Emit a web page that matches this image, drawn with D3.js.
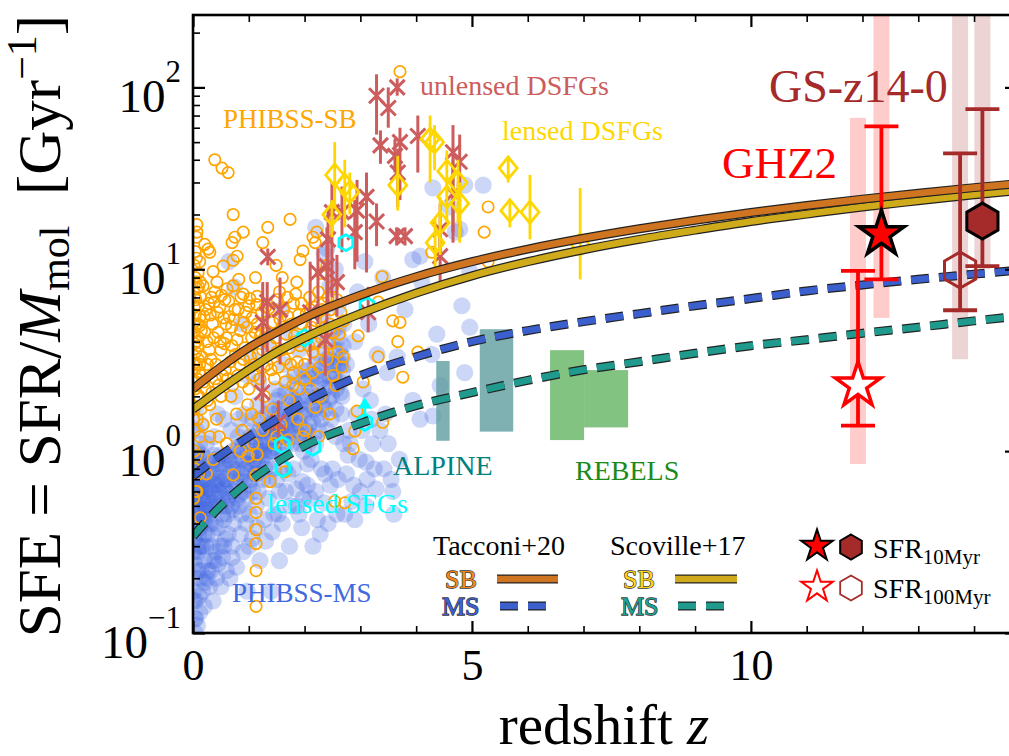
<!DOCTYPE html>
<html>
<head>
<meta charset="utf-8">
<script src="https://cdn.jsdelivr.net/npm/d3@7"></script>
<style>
body { margin: 0; background: #fff; }
svg text { font-family: "Liberation Serif", "Times New Roman", serif; }
</style>
</head>
<body>
<svg id="chart" width="1009" height="756"></svg>
<script>
// ---- data: [redshift, SFE in Gyr^-1] ----
var phibssMS = [
  [0.02,0.09],[0.03,0.12],[0.05,0.15],[0.04,0.2],[0.06,0.26],[0.03,0.33],[0.08,0.4],[0.02,0.5],[0.07,0.62],[0.1,0.75],
  [0.04,0.9],[0.12,1.1],[0.06,1.3],[0.15,0.55],[0.11,0.45],[0.14,0.3],[0.09,0.22],[0.17,0.17],[0.12,0.13],[0.18,0.7],
  [0.16,0.95],[0.05,1.7],[0.1,0.35],[0.13,0.85],[0.19,0.42],[0.02,0.72],[0.08,1.0],[0.15,1.4],[0.2,0.25],[0.01,0.28],
  [0.22,0.6],[0.25,0.35],[0.28,0.9],[0.3,0.5],[0.32,0.22],[0.35,0.75],[0.38,1.2],[0.4,0.4],[0.42,0.28],[0.45,0.65],
  [0.48,0.95],[0.5,0.18],[0.52,0.55],[0.55,1.5],[0.58,0.33],[0.24,1.1],[0.36,0.15],[0.44,1.6],[0.27,0.45],[0.33,0.3],
  [0.46,0.85],[0.53,0.26],[0.57,0.7],[0.21,0.19],[0.39,0.58],
  [0.62,0.45],[0.65,0.9],[0.68,1.3],[0.7,0.3],[0.72,0.6],[0.75,2.0],[0.78,0.23],[0.8,1.05],[0.83,0.5],[0.86,0.75],
  [0.9,0.28],[0.92,1.6],[0.95,0.4],[0.98,2.6],[1.0,0.65],[1.03,1.2],[1.06,0.33],[1.1,0.9],[1.13,0.5],[1.16,1.8],
  [1.2,0.25],[1.22,1.1],[1.25,0.7],[1.28,0.42],[0.66,0.2],[0.74,8.0],[0.88,5.0],[1.05,3.2],[0.64,11],[0.97,0.17],
  [1.18,2.4],[0.82,1.5],
  [1.32,0.85],[1.35,0.55],[1.38,1.4],[1.42,0.36],[1.45,1.05],[1.48,2.2],[1.5,0.7],[1.53,0.45],[1.56,1.7],[1.6,0.95],
  [1.63,3.0],[1.66,0.6],[1.7,1.25],[1.73,0.3],[1.76,2.0],[1.8,0.8],[1.83,1.5],[1.86,0.5],[1.9,3.6],[1.93,1.1],
  [1.96,0.68],[1.99,2.5],[1.4,0.17],[1.55,0.25],[1.75,4.5],[1.95,0.38],[1.6,6.0],[1.35,3.8],
  [2.02,1.3],[2.05,0.85],[2.08,2.8],[2.1,0.55],[2.13,1.8],[2.16,4.0],[2.2,1.1],[2.23,0.42],[2.26,2.3],[2.3,1.5],
  [2.33,5.5],[2.36,0.75],[2.4,3.2],[2.43,1.9],[2.46,0.65],[2.5,4.5],[2.53,2.6],[2.56,1.2],[2.6,6.2],[2.63,3.6],
  [2.66,1.6],[2.7,5.0],[2.28,0.35],[2.45,8.0],[2.35,12],[2.2,17],[2.55,10],[2.4,13],[2.65,2.1],[2.15,0.3],
  [2.75,3.0],[2.8,1.3],[2.85,0.53],[2.9,4.0],[2.95,7.5],[3.0,0.6],[3.05,2.2],[3.1,0.87],[3.15,5.0],[3.2,1.5],
  [3.25,0.8],[3.3,3.4],[3.4,9.0],[3.45,1.6],[2.78,0.95],[3.08,11],
  [3.55,0.7],[3.66,3.3],[3.48,2.7],[3.94,1.9],[3.94,11.3],[4.07,11.8],[4.07,1.5],[4.28,3.4],[4.3,28],[4.3,1.56],
  [4.37,4.4],[4.43,2.3],[4.7,16],[4.78,16.6],[4.82,6.3],[4.87,29],[4.87,2.7],[4.96,4.8],[4.96,9.7],[5.2,29],
  [4.6,22],[3.8,6],[4.1,8.5],[3.6,0.45],
  [0.03,0.4],[0.06,0.5],[0.09,0.6],[0.12,0.38],[0.14,0.48],[0.18,0.55],[0.22,0.42],[0.26,0.7],[0.3,0.62],[0.34,0.48],
  [0.4,0.8],[0.44,0.52],[0.5,0.72],[0.55,0.42],[0.6,0.95],[0.66,0.58],[0.72,0.8],[0.78,0.65],[0.84,1.0],[0.9,0.6],
  [0.96,1.3],[1.02,0.85],[1.08,1.5],[1.14,0.75],[1.2,1.3],[1.26,1.0],[1.34,1.6],[1.42,1.2],[1.5,1.9],[1.58,1.35],
  [1.66,2.1],[1.74,1.55],[1.82,2.6],[1.9,1.8],[1.98,1.0],[2.06,2.0],[2.14,1.45],[2.22,2.6],[2.3,2.0],[2.38,3.0],
  [2.46,2.3],[2.54,3.6],[2.62,4.2],[2.68,2.8],[0.05,0.8],[0.1,0.28],[0.16,0.65],[0.02,0.17],[0.08,0.11],[0.13,0.2],
  [0.01,0.15],[0.03,0.24],[0.05,0.36],[0.07,0.45],[0.09,0.3],[0.11,0.55],[0.13,0.65],[0.15,0.4],[0.17,0.3],[0.19,0.8],
  [0.21,0.5],[0.23,0.3],[0.25,0.55],[0.27,0.22],[0.29,0.75],[0.31,0.4],[0.33,0.6],[0.35,0.35],[0.37,0.95],[0.39,0.25],
  [0.41,0.5],[0.43,0.7],[0.45,0.38],[0.47,0.6],[0.49,0.3],[0.51,0.85],[0.53,0.45],[0.56,0.62],[0.59,0.5],[0.61,0.7],
  [0.63,0.35],[0.67,0.75],[0.69,0.5],[0.71,1.0],[0.73,0.4],[0.76,0.9],[0.79,0.55],[0.81,1.2],[0.85,0.7],[0.87,0.45],
  [0.89,1.1],[0.93,0.8],[0.95,0.55],[0.99,1.0],[1.01,0.45],[1.04,0.95],[1.07,0.6],[1.09,1.2],[1.11,0.75],[1.15,1.0],
  [1.17,0.6],[1.19,1.5],[1.23,0.9],[1.27,1.3],[1.29,0.8],[1.31,1.15],[1.36,0.7],[1.39,1.0],[1.41,1.7],[1.44,0.8],
  [1.47,1.3],[1.52,1.0],[1.54,2.0],[1.57,1.2],[1.61,1.6],[1.64,0.8],[1.67,1.4],[1.71,2.4],[1.78,1.1],[1.81,1.9],
  [1.84,1.3],[1.87,2.2],[1.91,1.4],[1.94,2.8],[2.0,1.6],[2.03,2.4],[2.07,1.1],[2.11,2.1],[2.17,1.7],[2.19,3.0],
  [2.25,1.3],[2.27,3.4],[2.32,2.5],[2.37,1.7],[2.41,4.0],[2.44,2.6],[2.48,1.5],[2.52,3.0],[2.57,2.2],[2.6,4.8],
  [2.64,3.0],[2.67,2.0],[2.69,3.8],[0.04,0.1],[0.11,0.16],[0.2,0.14],[0.3,0.18],[0.42,0.2],[0.6,0.22],[0.05,0.12],
  [0.05,0.55],[0.08,0.7],[0.1,0.9],[0.14,0.62],[0.16,0.45],[0.2,0.35],[0.24,0.48],[0.28,0.62],[0.32,0.85],[0.36,0.52],
  [0.4,0.65],[0.44,0.9],[0.48,0.5],[0.52,0.68],[0.56,0.85],[0.6,0.6],[0.64,0.55],[0.68,0.85],[0.72,0.48],[0.76,0.7],
  [0.8,0.8],[0.84,0.58],[0.88,0.9],[0.92,0.68],[0.96,0.85],[1.0,1.1],[1.04,0.7],[1.08,0.85],[1.12,1.1],[1.16,0.85],
  [1.2,1.0],[1.24,1.2],[1.28,0.95],[1.32,1.35],[1.36,1.1],[1.4,1.4],[1.44,1.0],[1.48,1.6],[1.52,1.25],[1.56,1.45],
  [1.6,1.2],[1.64,1.7],[1.68,1.1],[1.72,1.3],[1.76,1.6],[1.8,1.4],[1.84,1.8],[1.88,1.2],[1.92,1.6],[1.96,2.0],
  [2.0,1.2],[2.04,1.7],[2.08,1.4],[2.12,2.5],[2.16,1.2],[2.2,2.0],[2.24,1.6],[2.28,2.8],[2.32,1.8],[2.36,2.2],
  [2.4,1.3],[2.44,3.2],[2.48,2.0],[2.52,2.5],[2.56,1.7],[2.6,3.0],[2.64,2.4],[2.68,3.3],[0.15,0.22],[0.25,0.2],
  [0.35,0.25],[0.45,0.24],[0.55,0.3],[0.7,0.26],[0.85,0.35],[1.0,0.3],[1.15,0.38],[1.3,0.32],[1.45,0.45],[1.6,0.4],
  [1.75,0.5],[1.9,0.45],[2.05,0.65],[2.2,0.6],[2.35,0.52],[2.5,0.8],[2.6,0.7],[2.7,1.1],
  [2.75,0.75],[2.82,1.1],[2.88,0.65],[2.93,1.6],[2.98,0.9],[3.03,1.3],[3.12,0.7],[3.18,1.9],[3.22,1.1],[3.28,0.62],
  [3.35,1.3],[3.42,0.8],[3.5,1.1],[3.58,0.6],[3.7,0.9],[2.72,0.45],[2.9,0.42],[3.1,0.5],[2.58,0.45],[2.42,0.4],
  [2.3,0.8],[2.12,0.9],[1.98,0.55],[1.85,0.62],[1.7,0.75],[1.55,0.6]
];

var phibssSB = [
  [0.02,1.0],[0.03,1.3],[0.02,1.7],[0.04,2.2],[0.03,2.8],[0.05,3.5],[0.02,4.5],[0.04,5.6],[0.03,7.0],[0.05,8.5],
  [0.02,10.5],[0.04,12.5],[0.06,15],[0.07,17.6],[0.03,0.8],[0.06,0.95],[0.08,1.5],[0.07,2.5],[0.09,3.2],[0.06,4.0],
  [0.08,5.0],[0.1,6.3],[0.07,7.8],[0.09,9.5],[0.11,2.0],[0.12,3.0],[0.1,4.2],[0.13,5.5],[0.12,1.2],[0.14,7.0],
  [0.07,16],[0.12,11],[0.05,0.6],[0.1,0.75],[0.14,1.7],[0.15,2.6],[0.02,6.2],[0.04,9.0],[0.06,11.5],[0.15,4.6],
  [0.13,8.5],[0.01,3.0],[0.01,1.5],[0.01,0.55],
  [0.18,8.1],[0.21,13.7],[0.27,12.9],[0.3,12.4],[0.36,9.7],[0.39,7.5],[0.43,8.5],[0.54,10.4],[0.61,7.8],[0.72,8.1],
  [0.39,40],[0.52,36],[0.63,34],[0.72,20],[0.75,15],[0.7,14],[0.79,11.8],[0.72,11.2],[0.9,16],
  [0.2,5.5],[0.25,4.0],[0.28,6.5],[0.32,3.2],[0.35,5.0],[0.4,2.5],[0.45,4.5],[0.48,6.2],[0.5,3.6],[0.55,5.4],
  [0.58,2.8],[0.22,2.2],[0.3,1.8],[0.42,1.5],[0.5,2.0],[0.6,4.2],[0.33,7.0],[0.26,3.0],[0.18,1.4],[0.47,1.2],
  [0.57,6.8],[0.36,0.9],[0.24,0.75],
  [0.9,7.3],[1.02,6.9],[1.15,7.1],[1.25,14],[1.34,17],[0.65,5.5],[0.7,3.8],[0.75,6.0],[0.8,2.6],[0.85,4.6],
  [0.9,3.2],[0.95,5.8],[1.0,2.2],[1.05,4.2],[1.1,3.0],[1.15,5.0],[1.2,2.5],[1.25,3.6],[1.3,6.2],[0.68,2.0],
  [0.78,1.6],[0.88,1.3],[0.98,1.8],[1.08,1.1],[1.18,1.5],[1.28,2.0],[0.82,8.8],[1.12,9.0],[0.99,0.94],[1.15,0.96],
  [0.72,0.74],[1.13,0.74],[1.13,0.55],[1.13,0.46],[1.13,0.37],[1.13,0.31],[1.13,0.22],[1.13,0.14],[0.13,0.43],[0.07,0.6],
  [1.49,10.5],[1.38,0.68],[1.65,0.77],[1.74,18.8],[1.86,8.5],[1.92,11.3],[1.97,12.6],[1.35,4.5],[1.4,2.8],[1.45,6.0],
  [1.5,3.5],[1.55,7.5],[1.6,4.8],[1.65,2.4],[1.7,5.5],[1.75,3.0],[1.8,6.5],[1.85,4.0],[1.9,2.2],[1.95,5.0],
  [1.97,1.2],[1.42,1.7],[1.58,1.4],[1.72,1.9],[1.88,1.5],[1.6,9.0],[1.8,2.7],[1.5,1.2],
  [2.15,15],[2.22,16],[2.19,14],[2.19,1.74],[2.0,3.0],[2.05,4.5],[2.1,6.0],[2.15,3.5],[2.2,5.2],[2.25,7.5],
  [2.3,4.2],[2.35,6.5],[2.4,3.2],[2.45,5.0],[2.5,8.0],[2.51,2.6],[2.54,0.53],[2.6,3.5],[2.65,5.8],[2.69,3.3],
  [2.72,0.52],[2.9,1.29],[2.94,1.66],[2.96,4.3],[3.05,2.4],[3.32,3.3],[3.32,6.6],[3.39,9.1],[2.3,9.5],[2.1,2.2],
  [2.4,10.5],[2.28,2.0],[3.71,122],[5.29,22],[5.22,16],[5.29,11],[4.28,12.4],[3.71,5.1],[4.03,3.5],[3.76,2.55],
  [3.58,5.2],[3.67,4.0],[2.87,1.03],[3.4,1.44],
  [0.16,3.3],[0.19,2.4],[0.21,4.5],[0.23,6.0],[0.26,1.9],[0.29,3.6],[0.31,5.6],[0.34,2.1],[0.37,4.2],[0.38,6.6],
  [0.41,3.0],[0.44,5.8],[0.46,2.3],[0.49,4.0],[0.51,7.2],[0.53,2.6],[0.56,3.9],[0.59,5.0],[0.62,2.5],[0.64,6.7],
  [0.67,3.1],[0.69,4.8],[0.71,2.3],[0.73,5.3],[0.76,3.4],[0.79,4.1],[0.81,6.0],[0.84,3.0],[0.86,7.0],[0.89,2.4],
  [0.91,5.1],[0.93,3.7],[0.97,4.8],[1.0,6.3],[1.03,3.3],[1.06,5.4],[1.09,2.6],[1.11,4.5],[1.14,6.4],[1.17,3.4],
  [1.21,4.3],[1.23,5.8],[1.27,2.9],[1.31,4.6],[1.33,3.0],[1.36,6.1],[1.39,3.8],[1.43,5.1],[1.46,2.5],[1.48,4.2],
  [1.51,6.8],[1.53,2.9],[1.56,5.3],[1.59,3.6],[1.62,6.0],[1.64,3.2],[1.67,4.4],[1.69,7.0],[1.73,3.7],[1.77,5.0],
  [1.79,2.3],[1.82,4.3],[1.84,7.3],[1.87,3.1],[1.89,5.6],[1.92,3.8],[1.94,6.5],[1.98,4.1],[2.01,2.5],[2.03,5.7],
  [2.07,3.8],[2.09,7.0],[2.12,4.8],[2.14,2.7],[2.17,6.2],[2.21,3.9],[2.24,5.8],[2.27,2.9],[2.31,6.0],[2.33,3.6],
  [2.37,4.8],[2.42,7.0],[2.44,3.9],[2.47,6.0],[2.52,4.5],[2.56,2.3],[2.58,6.8],[2.62,4.4],[2.67,2.9],[2.7,5.2],
  [0.08,2.0],[0.11,2.7],[0.09,3.8],[0.12,4.9],[0.1,8.0],[0.05,2.4],[0.06,3.0],[0.03,3.9],[0.04,4.9],[0.05,6.8],
  [1.05,1.6],[1.25,1.3],[1.45,1.1],[1.7,1.15],[2.0,1.3],[2.25,1.2],[2.45,1.6],[0.6,1.1],[0.85,1.0],[0.3,1.2]
];

// [z, SFE, lower, upper]
var unlensedDSFG = [
  [3.29,90,55,118],[3.50,77,60,100],[3.36,48,38,58],[3.62,42,34,52],[3.71,50,24,60],[3.67,34,22,46],
  [3.66,100,90,112],[4.03,54,34,70],[4.66,44,16,62],[4.78,39,17,55],[4.66,26,14,40],[4.43,16.6,11.5,23],
  [4.43,11.8,8.5,16],[3.65,15.2,13.5,17],[3.80,15.2,13.5,17],[3.29,18.3,13.4,23],[3.11,25,9.6,34],
  [2.94,21,11,31],[2.90,16,10,24],[2.67,20.6,12.4,28.5],[2.49,20.6,7,30],[2.42,14.6,6,21],[2.40,10.4,4,17],
  [2.58,8.5,5.5,12],[2.24,9.6,5,13],[1.34,11.7,10.5,13],[1.33,6.6,3.5,8.5],[1.25,5.1,1.6,8.5],[1.56,6.0,3,9],
  [1.24,2.1,1.6,2.9],[1.53,1.44,1.1,1.9],[2.10,5.8,3,11],[2.37,4.1,2.6,5.1],[3.14,5.8,4.5,8]
];

var lensedDSFG = [
  [2.54,33,22,50],[2.72,29,17,40],[2.81,26.6,20,34],[2.49,20,15,24],[4.25,52,30,70],[4.33,50,35,62],
  [3.67,29,21,42],[4.55,34.6,26,45],[4.75,30,18,40],[4.55,25,18,32],[4.78,23,14,30],[4.43,18,12,25],
  [4.34,14,10,19],[5.65,36,30,42],[5.68,21,17,24],[6.04,20.6,14.6,33],[6.94,13.7,8.8,28]
];

var lensedSFG = [[2.74,14],[2.0,4.2],[3.12,6.3],[1.6,1.08],[2.15,1.05],[1.61,0.8]];
var lensedSFGLimit = [[3.08,1.44,1.9]];   // [z, SFE, arrow tip]

// [zLow, zHigh, SFE low, SFE high]
var alpine = [[4.36,4.60,1.14,3.13],[5.14,5.74,1.28,4.68]];
var rebels = [[6.40,7.01,1.15,3.59],[7.01,7.80,1.35,2.79]];

// model curves
var zGrid      = [0,0.5,1,1.5,2,3,4,5,6,7,8,9,10,11,12,13,14,15];
var tacconiSB  = [2.2,2.9,3.7,4.5,5.4,7.2,9.1,11.0,12.9,14.8,16.7,18.6,20.5,22.4,24.3,26.2,28.1,30.0];
var scovilleSB = [1.7,2.2,2.8,3.5,4.2,5.7,7.4,9.2,11.0,12.8,14.6,16.4,18.3,20.1,22.0,23.8,25.7,27.4];
var tacconiMS  = [0.73,0.95,1.2,1.5,1.86,2.6,3.3,4.0,4.6,5.15,5.7,6.3,6.9,7.6,8.2,8.8,9.4,10.0];
var scovilleMS = [0.34,0.5,0.68,0.87,1.07,1.42,1.78,2.1,2.45,2.8,3.1,3.45,3.8,4.1,4.45,4.8,5.2,5.6];

// GHZ2 and GS-z14-0: index 0 = SFR 10 Myr, index 1 = SFR 100 Myr
var ghz2Z = [12.34, 11.92];
var ghz2SFE = [15.6, 2.3];
var ghz2Lo = [8.8, 1.38];
var ghz2Hi = [61, 9.8];
var ghz2BandLo = [5.4, 0.85];
var ghz2BandHi = [250, 68];
var gsZ = [14.15, 13.75];
var gsSFE = [18.4, 9.9];
var gsLo = [10.4, 5.95];
var gsHi = [76, 43.4];
var gsBandLo = [10, 3.2];
var gsBandHi = [250, 250];

var xMajor = [0, 5, 10];
var xMinor = [1,2,3,4,6,7,8,9,11,12,13,14];
var yMajor = [0.1, 1, 10, 100];
var yExp = ["\u22121", "0", "1", "2"];
var yMinor = [0.2,0.3,0.4,0.5,0.6,0.7,0.8,0.9,2,3,4,5,6,7,8,9,20,30,40,50,60,70,80,90,200];

// ---- chart ----
var svg = d3.select("#chart");
var pLeft = 193, pRight = 1017, pTop = 15, pBottom = 633;
var x = d3.scaleLinear().domain([0, 14.77]).range([pLeft, pRight]);
var y = d3.scaleLog().domain([0.1, 250]).range([pBottom, pTop]);

svg.append("defs").append("clipPath").attr("id", "clip")
  .append("rect").attr("x", pLeft).attr("y", pTop).attr("width", pRight - pLeft).attr("height", pBottom - pTop);
var plot = svg.append("g").attr("clip-path", "url(#clip)");

function hexPath(r) {
  var pts = d3.range(6).map(function (i) {
    var a = Math.PI / 180 * (60 * i - 90);
    return [r * Math.cos(a), r * Math.sin(a)];
  });
  return "M" + pts.join("L") + "Z";
}

// PHIBSS main sequence
plot.append("g").selectAll("circle").data(phibssMS).join("circle")
  .attr("cx", function (d) { return x(d[0]); })
  .attr("cy", function (d) { return y(d[1]); })
  .attr("r", 8.6)
  .attr("fill", "#4169e1")
  .attr("fill-opacity", 0.27);

// PHIBSS starbursts
plot.append("g").selectAll("circle").data(phibssSB).join("circle")
  .attr("cx", function (d) { return x(d[0]); })
  .attr("cy", function (d) { return y(d[1]); })
  .attr("r", 5.7)
  .attr("fill", "none")
  .attr("stroke", "#ffa500")
  .attr("stroke-width", 1.7);

// unlensed DSFGs
var ud = plot.append("g");
ud.selectAll("line").data(unlensedDSFG).join("line")
  .attr("x1", function (d) { return x(d[0]); }).attr("x2", function (d) { return x(d[0]); })
  .attr("y1", function (d) { return y(d[2]); }).attr("y2", function (d) { return y(d[3]); })
  .attr("stroke", "#cd5c5c").attr("stroke-width", 3);
ud.selectAll("path").data(unlensedDSFG).join("path")
  .attr("d", "M-7.5,-7.5L7.5,7.5M-7.5,7.5L7.5,-7.5")
  .attr("transform", function (d) { return "translate(" + x(d[0]) + "," + y(d[1]) + ")"; })
  .attr("stroke", "#cd5c5c").attr("stroke-width", 3).attr("fill", "none");

// lensed DSFGs
var ld = plot.append("g");
ld.selectAll("line").data(lensedDSFG).join("line")
  .attr("x1", function (d) { return x(d[0]); }).attr("x2", function (d) { return x(d[0]); })
  .attr("y1", function (d) { return y(d[2]); }).attr("y2", function (d) { return y(d[3]); })
  .attr("stroke", "#ffd700").attr("stroke-width", 2.8);
ld.selectAll("path").data(lensedDSFG).join("path")
  .attr("d", "M0,-11L9,0L0,11L-9,0Z")
  .attr("transform", function (d) { return "translate(" + x(d[0]) + "," + y(d[1]) + ")"; })
  .attr("stroke", "#ffd700").attr("stroke-width", 2.8).attr("fill", "none");

// lensed SFGs
var ls = plot.append("g");
ls.selectAll("path.hex").data(lensedSFG).join("path").attr("class", "hex")
  .attr("d", hexPath(8))
  .attr("transform", function (d) { return "translate(" + x(d[0]) + "," + y(d[1]) + ")"; })
  .attr("stroke", "#00ffff").attr("stroke-width", 2.8).attr("fill", "none");
lensedSFGLimit.forEach(function (d) {
  ls.append("path").attr("d", hexPath(8))
    .attr("transform", "translate(" + x(d[0]) + "," + y(d[1]) + ")")
    .attr("stroke", "#00ffff").attr("stroke-width", 2.8).attr("fill", "none");
  ls.append("line").attr("x1", x(d[0])).attr("x2", x(d[0]))
    .attr("y1", y(d[1])).attr("y2", y(d[2]) + 6)
    .attr("stroke", "#00ffff").attr("stroke-width", 2.8);
  ls.append("path")
    .attr("d", "M" + x(d[0]) + "," + (y(d[2]) - 3) + "l-7,11l14,0z")
    .attr("fill", "#00ffff");
});

// ALPINE and REBELS boxes
plot.append("g").selectAll("rect").data(alpine).join("rect")
  .attr("x", function (d) { return x(d[0]); })
  .attr("width", function (d) { return x(d[1]) - x(d[0]); })
  .attr("y", function (d) { return y(d[3]); })
  .attr("height", function (d) { return y(d[2]) - y(d[3]); })
  .attr("fill", "#5f9ea0").attr("fill-opacity", 0.8);
plot.append("g").selectAll("rect").data(rebels).join("rect")
  .attr("x", function (d) { return x(d[0]); })
  .attr("width", function (d) { return x(d[1]) - x(d[0]); })
  .attr("y", function (d) { return y(d[3]); })
  .attr("height", function (d) { return y(d[2]) - y(d[3]); })
  .attr("fill", "#3fa33f").attr("fill-opacity", 0.65);

// shaded bands behind GHZ2 / GS-z14-0
var bands = plot.append("g");
ghz2Z.forEach(function (z, i) {
  bands.append("rect").attr("x", x(z) - 8).attr("width", 16)
    .attr("y", y(ghz2BandHi[i])).attr("height", y(ghz2BandLo[i]) - y(ghz2BandHi[i]))
    .attr("fill", "#ff0000").attr("fill-opacity", 0.2);
});
gsZ.forEach(function (z, i) {
  bands.append("rect").attr("x", x(z) - 8).attr("width", 16)
    .attr("y", y(gsBandHi[i])).attr("height", y(gsBandLo[i]) - y(gsBandHi[i]))
    .attr("fill", "#a52a2a").attr("fill-opacity", 0.2);
});

// model lines with dark outline
var line = d3.line()
  .x(function (d, i) { return x(zGrid[i]); })
  .y(function (d) { return y(d); })
  .curve(d3.curveMonotoneX);
function modelLine(vals, color, dashed) {
  plot.append("path").attr("d", line(vals)).attr("fill", "none")
    .attr("stroke", "#222").attr("stroke-width", 9)
    .attr("stroke-dasharray", dashed ? "18,10" : null);
  plot.append("path").attr("d", line(vals)).attr("fill", "none")
    .attr("stroke", color).attr("stroke-width", 6.6)
    .attr("stroke-dasharray", dashed ? "18,10" : null);
}
modelLine(scovilleMS, "#1f9a8c", true);
modelLine(tacconiMS, "#3b5fcc", true);
modelLine(scovilleSB, "#cfaa1a", false);
modelLine(tacconiSB, "#cf7420", false);

// GHZ2 / GS-z14-0 error bars and markers
function errBar(g, z, v, lo, hi, color) {
  g.append("line").attr("x1", x(z)).attr("x2", x(z)).attr("y1", y(lo)).attr("y2", y(hi))
    .attr("stroke", color).attr("stroke-width", 3.8);
  [lo, hi].forEach(function (c) {
    g.append("line").attr("x1", x(z) - 17).attr("x2", x(z) + 17).attr("y1", y(c)).attr("y2", y(c))
      .attr("stroke", color).attr("stroke-width", 3.8);
  });
}
var hz = plot.append("g");
errBar(hz, ghz2Z[1], ghz2SFE[1], ghz2Lo[1], ghz2Hi[1], "#ff0000");
errBar(hz, ghz2Z[0], ghz2SFE[0], ghz2Lo[0], ghz2Hi[0], "#ff0000");
errBar(hz, gsZ[1], gsSFE[1], gsLo[1], gsHi[1], "#a52a2a");
errBar(hz, gsZ[0], gsSFE[0], gsLo[0], gsHi[0], "#a52a2a");
var bigStar = d3.symbol(d3.symbolStar, 640)();
hz.append("path").attr("d", bigStar)
  .attr("transform", "translate(" + x(ghz2Z[1]) + "," + y(ghz2SFE[1]) + ")")
  .attr("fill", "#fff").attr("stroke", "#ff0000").attr("stroke-width", 3.5);
hz.append("path").attr("d", bigStar)
  .attr("transform", "translate(" + x(ghz2Z[0]) + "," + y(ghz2SFE[0]) + ")")
  .attr("fill", "#ff0000").attr("stroke", "#000").attr("stroke-width", 3.5);
hz.append("path").attr("d", hexPath(18))
  .attr("transform", "translate(" + x(gsZ[1]) + "," + y(gsSFE[1]) + ")")
  .attr("fill", "none").attr("stroke", "#a52a2a").attr("stroke-width", 3);
hz.append("path").attr("d", hexPath(18))
  .attr("transform", "translate(" + x(gsZ[0]) + "," + y(gsSFE[0]) + ")")
  .attr("fill", "#a52a2a").attr("stroke", "#000").attr("stroke-width", 3);

// ---- in-plot labels ----
function label(txt, lx, ly, color, size) {
  return svg.append("text").attr("x", lx).attr("y", ly).attr("fill", color)
    .attr("font-size", size).text(txt);
}
label("PHIBSS-SB", 223, 128, "#ffa500", 27);
label("unlensed DSFGs", 420, 95, "#cd5c5c", 28);
label("lensed DSFGs", 502, 140, "#ffd700", 28);
label("GS-z14-0", 769, 102, "#a52a2a", 46);
label("GHZ2", 722, 178, "#ff0000", 45);
label("ALPINE", 393, 475, "#008080", 28);
label("REBELS", 575, 480, "#1a8a1a", 28);
label("lensed SFGs", 267, 513, "#00ffff", 28);
label("PHIBSS-MS", 232, 602, "#4169e1", 27);

// ---- legend ----
label("Tacconi+20", 433, 555, "#000", 28);
label("Scoville+17", 610, 555, "#000", 28);
function outlined(txt, lx, ly, color) {
  label(txt, lx, ly, color, 26).attr("stroke", "#333").attr("stroke-width", 1.3)
    .attr("paint-order", "stroke");
}
outlined("SB", 445, 588, "#f08a1c");
outlined("MS", 442, 615, "#3b62d8");
outlined("SB", 623, 588, "#ffd21a");
outlined("MS", 621, 615, "#1fa393");
function legendLine(x1, x2, ly, color, dashed) {
  [["#222", 9], [color, 6.6]].forEach(function (s) {
    svg.append("line").attr("x1", x1).attr("x2", x2).attr("y1", ly).attr("y2", ly)
      .attr("stroke", s[0]).attr("stroke-width", s[1])
      .attr("stroke-dasharray", dashed ? "18,10" : null);
  });
}
legendLine(497, 558, 579, "#cf7420", false);
legendLine(500, 547, 606, "#3b5fcc", true);
legendLine(675, 737, 579, "#cfaa1a", false);
legendLine(678, 725, 606, "#1f9a8c", true);

var smallStar = d3.symbol(d3.symbolStar, 310)();
svg.append("path").attr("d", smallStar).attr("transform", "translate(817,546)")
  .attr("fill", "#ff0000").attr("stroke", "#000").attr("stroke-width", 2);
svg.append("path").attr("d", hexPath(12.5)).attr("transform", "translate(851,547)")
  .attr("fill", "#a52a2a").attr("stroke", "#000").attr("stroke-width", 2);
svg.append("path").attr("d", smallStar).attr("transform", "translate(817,587)")
  .attr("fill", "#fff").attr("stroke", "#ff0000").attr("stroke-width", 2);
svg.append("path").attr("d", hexPath(12.5)).attr("transform", "translate(851,588)")
  .attr("fill", "none").attr("stroke", "#a52a2a").attr("stroke-width", 1.8);
[["10Myr", 558], ["100Myr", 598]].forEach(function (s) {
  var t = svg.append("text").attr("x", 873).attr("y", s[1]).attr("font-size", 28).attr("fill", "#000");
  t.append("tspan").text("SFR");
  t.append("tspan").attr("dy", 6).attr("font-size", 21).text(s[0]);
});

// ---- axes ----
function styleAxis(g, width) {
  g.select(".domain").remove();
  g.attr("font-family", null).attr("font-size", null);
  g.selectAll(".tick line").attr("stroke", "#000").attr("stroke-width", width);
}
svg.append("g").attr("transform", "translate(0," + pBottom + ")")
  .call(d3.axisBottom(x).tickValues(xMajor).tickSize(-12).tickPadding(16).tickFormat(d3.format("d")))
  .call(styleAxis, 2.2)
  .selectAll("text").attr("font-size", 44).attr("fill", "#000");
svg.append("g").attr("transform", "translate(0," + pBottom + ")")
  .call(d3.axisBottom(x).tickValues(xMinor).tickSize(-7).tickFormat(""))
  .call(styleAxis, 1.6);
svg.append("g").attr("transform", "translate(0," + pTop + ")")
  .call(d3.axisTop(x).tickValues(xMajor).tickSize(-12).tickFormat(""))
  .call(styleAxis, 2.2);
svg.append("g").attr("transform", "translate(0," + pTop + ")")
  .call(d3.axisTop(x).tickValues(xMinor).tickSize(-7).tickFormat(""))
  .call(styleAxis, 1.6);

var yAxisG = svg.append("g").attr("transform", "translate(" + pLeft + ",0)")
  .call(d3.axisLeft(y).tickValues(yMajor).tickSize(-12).tickPadding(12).tickFormat(""))
  .call(styleAxis, 2.2);
yAxisG.selectAll(".tick text").each(function (d, i) {
  var t = d3.select(this).attr("font-size", 47).attr("fill", "#000").attr("dy", "0.52em");
  t.append("tspan").text("10");
  t.append("tspan").attr("dy", -30).attr("font-size", 31).text(yExp[i]);
});
svg.append("g").attr("transform", "translate(" + pLeft + ",0)")
  .call(d3.axisLeft(y).tickValues(yMinor).tickSize(-7).tickFormat(""))
  .call(styleAxis, 1.6);
svg.append("g").attr("transform", "translate(" + pRight + ",0)")
  .call(d3.axisRight(y).tickValues(yMajor).tickSize(-12).tickFormat(""))
  .call(styleAxis, 2.2);
svg.append("g").attr("transform", "translate(" + pRight + ",0)")
  .call(d3.axisRight(y).tickValues(yMinor).tickSize(-7).tickFormat(""))
  .call(styleAxis, 1.6);

svg.append("rect").attr("x", pLeft).attr("y", pTop)
  .attr("width", pRight - pLeft).attr("height", pBottom - pTop)
  .attr("fill", "none").attr("stroke", "#000").attr("stroke-width", 2.6);

// axis titles
var xl = svg.append("text").attr("x", 604).attr("y", 744).attr("text-anchor", "middle")
  .attr("font-size", 57).attr("fill", "#000");
xl.append("tspan").text("redshift ");
xl.append("tspan").attr("font-style", "italic").text("z");

var yl = svg.append("text").attr("transform", "translate(60,326) rotate(-90)")
  .attr("text-anchor", "middle").attr("font-size", 61).attr("fill", "#000");
yl.append("tspan").text("SFE = SFR/");
yl.append("tspan").attr("font-style", "italic").text("M");
yl.append("tspan").attr("font-size", 42).attr("dy", 9).text("mol");
yl.append("tspan").attr("dy", -9).text("\u00a0\u00a0[Gyr");
yl.append("tspan").attr("font-size", 42).attr("dy", -24).text("\u22121");
yl.append("tspan").attr("dy", 24).text("]");
</script>
</body>
</html>
